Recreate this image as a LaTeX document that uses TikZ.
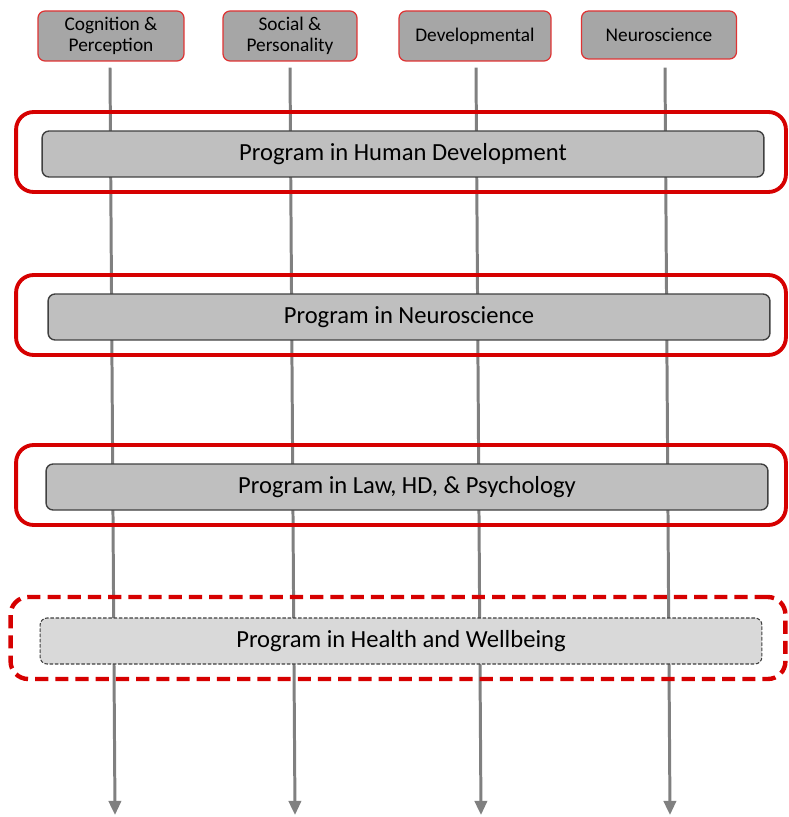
\documentclass[tikz,border=0pt]{standalone}
\usepackage{fontspec}
\setmainfont{Carlito}
\usetikzlibrary{backgrounds,arrows.meta}
\definecolor{boxred}{RGB}{214,0,0}
\definecolor{streamgray}{RGB}{128,128,128}
\tikzset{
  field/.style={draw=boxred!80, fill=black!35, rounded corners=4pt, line width=0.7pt,
    align=center, inner sep=0pt, font=\fontsize{11}{12}\selectfont},
  program/.style={draw=black!75, fill=black!25, rounded corners=4pt, line width=0.8pt,
    inner sep=0pt, minimum width=14.44cm, minimum height=0.92cm, font=\fontsize{14}{16}\selectfont},
  frame/.style={draw=boxred, line width=2.2pt, rounded corners=10pt,
    minimum width=15.4cm, minimum height=1.6cm},
  stream/.style={draw=streamgray, line width=1.7pt, -{Triangle[length=8pt,width=7pt]}},
}

\begin{document}
\begin{tikzpicture}[x=0.02cm,y=-0.02cm]
            \useasboundingbox (0,0) rectangle (788,817);

            % Fields
            \node[field, minimum width=2.92cm, minimum height=1cm] (cog) at (111,36) {Cognition \&\\Perception};
            \node[field, minimum width=2.68cm, minimum height=1cm] (soc) at (290,36) {Social \&\\Personality};
            \node[field, minimum width=3.04cm, minimum height=1cm] (dev) at (475,36) {Developmental};
            \node[field, minimum width=3.10cm, minimum height=0.96cm] (neu) at (659,35) {Neuroscience};

            % Frames
            \node[frame] (hd frame) at (401,152) {};
            \node[frame] (ns frame) at (401,315) {};
            \node[frame] (law frame) at (401,485) {};
            \node[frame, line width=2.5pt, dash pattern=on 7.5pt off 4pt, minimum width=15.5cm, minimum height=1.64cm] (hw frame) at (398,638) {};

            % Programs
            \node[program] (hd) at (403,154) {Program in Human Development};
            \node[program] (ns) at (409,317) {Program in Neuroscience};
            \node[program] (law) at (407,487) {Program in Law, HD, \& Psychology};
            \node[program, fill=black!15, line width=0.6pt, dash pattern=on 2pt off 1pt] (hw) at (401,641) {Program in Health and Wellbeing};

            % Arrow ends
            \coordinate (cog end) at (115,815);
            \coordinate (soc end) at (295,815);
            \coordinate (dev end) at (481,815);
            \coordinate (neu end) at (670,815);

            % Streams
            \begin{scope}[on background layer]
                \draw[stream] ([shift={(-1,6)}]cog.south) -- (cog end);
                \draw[stream] ([shift={(0,6)}]soc.south) -- (soc end);
                \draw[stream] ([shift={(1,6)}]dev.south) -- (dev end);
                \draw[stream] ([shift={(6,8)}]neu.south) -- (neu end);
            \end{scope}
        \end{tikzpicture}
\end{document}
